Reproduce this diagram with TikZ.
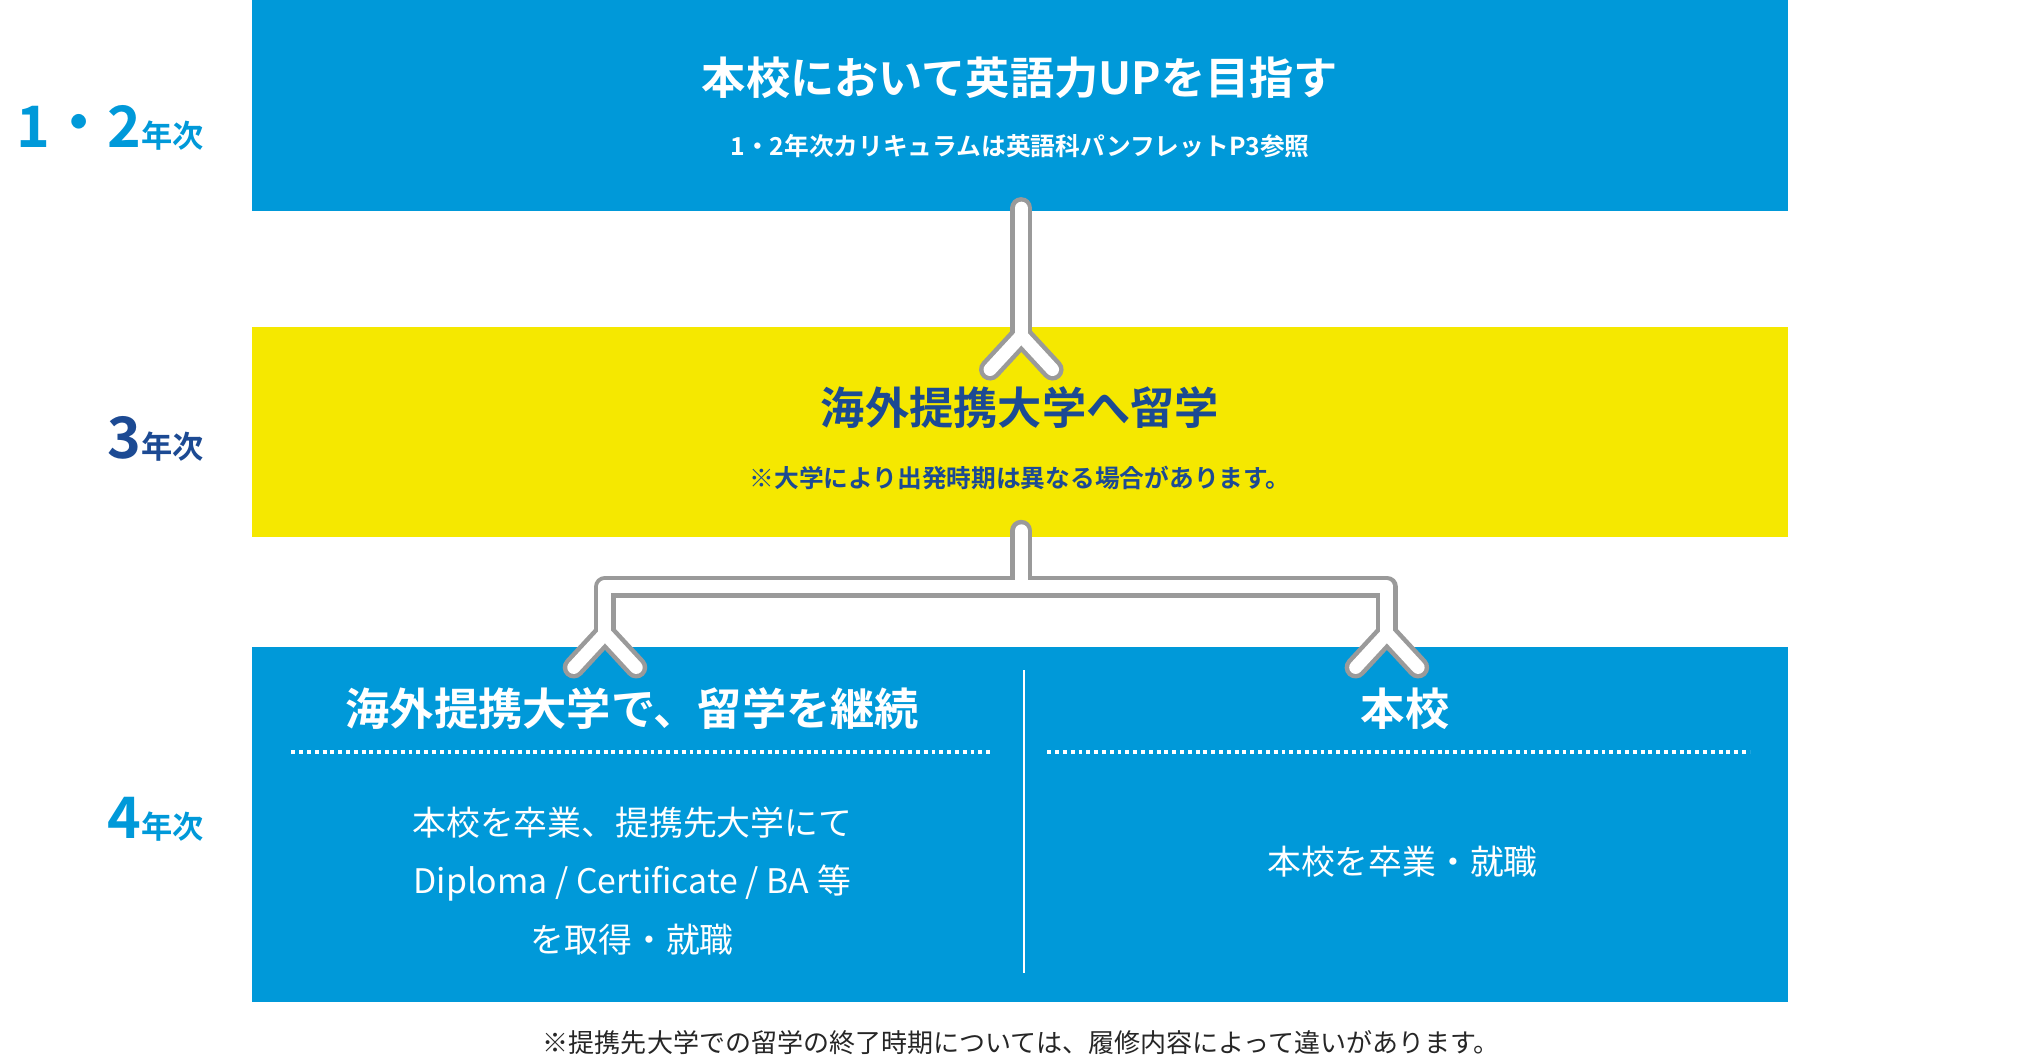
\documentclass[tikz,border=0pt]{standalone}
\usepackage{fontspec}
\setmainfont{Noto Sans CJK JP}[BoldFont={* Bold}]
\definecolor{cblue}{HTML}{0099D9}
\definecolor{cyel}{HTML}{F5E800}
\definecolor{cdark}{HTML}{1C4A93}
\definecolor{cgray}{HTML}{9A9A9A}
\begin{document}
\begin{tikzpicture}[x=1pt,y=-1pt,
  box/.style={inner sep=0},
  ttl/.style={font=\fontsize{34}{40}\selectfont\bfseries},
  sub/.style={font=\fontsize{19}{23}\selectfont\bfseries},
  body/.style={font=\fontsize{26}{45}\selectfont, align=center, text=white},
  yr/.style={font=\bfseries, anchor=east},
  arrout/.style={draw=cgray, line width=17, line join=round, line cap=round},
  arrin/.style={draw=white, line width=10, line join=round, line cap=round}]
\useasboundingbox (0,0) rectangle (1568,812);
\fill[cblue] (194,0) rectangle (1374,162);
\fill[cyel] (194,251) rectangle (1374,413);
\fill[cblue] (194,497) rectangle (1374,770);
\node[ttl,text=white] (t1) at (784,60) {本校において英語力UPを目指す};
\node[sub,text=white] (s1) at (784,112) {1・2年次カリキュラムは英語科パンフレットP3参照};
\node[ttl,text=cdark] (t2) at (784,313) {海外提携大学へ留学};
\node[sub,text=cdark] (s2) at (784,367) {※大学により出発時期は異なる場合があります。};
\node[ttl,text=white] (t3) at (486,545) {海外提携大学で、留学を継続};
\node[ttl,text=white] (t4) at (1080,545) {本校};
\draw[white, line width=2.5, dash pattern=on 3 off 3] (224,578) -- (763,578);
\draw[white, line width=2.5, dash pattern=on 3 off 3] (805,578) -- (1345,578);
\draw[white, line width=2] (787,515) -- (787,748);
\node[body] (b1) at (486,677) {本校を卒業、提携先大学にて\\Diploma / Certificate / BA 等\\を取得・就職};
\node[body] (b2) at (1078,662) {本校を卒業・就職};
\node[sub,font=\fontsize{20}{24}\selectfont,text=black!85] (ft) at (785,801) {※提携先大学での留学の終了時期については、履修内容によって違いがあります。};
\node[yr,text=cblue] (y1) at (160,98) {\fontsize{44}{50}\selectfont 1\raisebox{3pt}{・}2\fontsize{24}{28}\selectfont 年次};
\node[yr,text=cdark] (y2) at (160,337) {\fontsize{44}{50}\selectfont 3\fontsize{24}{28}\selectfont 年次};
\node[yr,text=cblue] (y3) at (160,630) {\fontsize{44}{50}\selectfont 4\fontsize{24}{28}\selectfont 年次};
% arrows
\coordinate (a0) at (785,160); \coordinate (a1) at (785,258);
\coordinate (c0) at (785,408); \coordinate (c1) at (785,451);
\coordinate (l0) at (465,451); \coordinate (l1) at (465,487);
\coordinate (r0) at (1066,451); \coordinate (r1) at (1066,487);
\foreach \s in {arrout,arrin}{
  \draw[\s] (a0) -- (a1);
  \draw[\s] ([xshift=-24,yshift=-26]a1) -- (a1) -- ([xshift=24,yshift=-26]a1);
  \draw[\s] (c0) -- (c1) -- (l0) -- (l1);
  \draw[\s] (c1) -- (r0) -- (r1);
  \draw[\s] ([xshift=-24,yshift=-26]l1) -- (l1) -- ([xshift=24,yshift=-26]l1);
  \draw[\s] ([xshift=-24,yshift=-26]r1) -- (r1) -- ([xshift=24,yshift=-26]r1);
}
\end{tikzpicture}
\end{document}
